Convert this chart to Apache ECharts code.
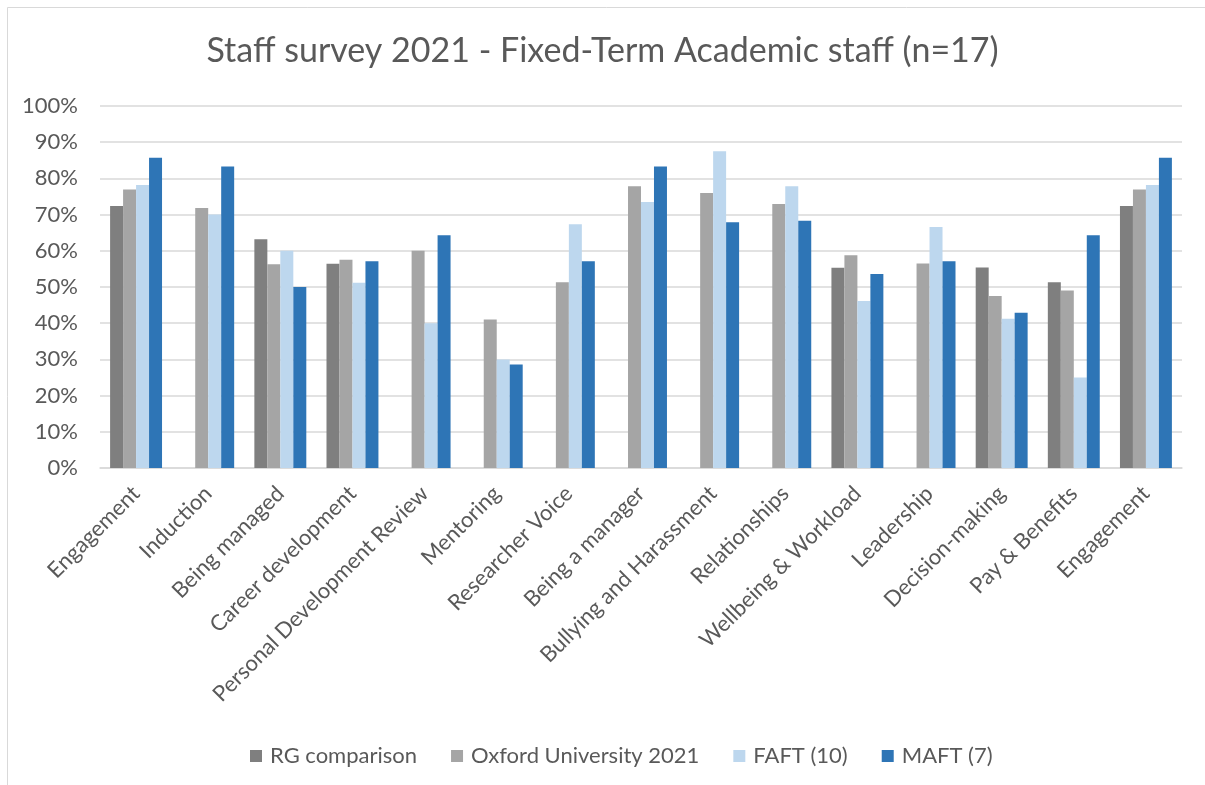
<!DOCTYPE html>
<html><head><meta charset="utf-8">
<script src="https://cdn.jsdelivr.net/npm/echarts@6/dist/echarts.min.js"></script>
<style>html,body{margin:0;padding:0;background:#fff}#c{width:1205px;height:785px}</style>
</head><body><div id="c"></div>
<script>
const categories = ["Engagement","Induction","Being managed","Career development","Personal Development Review","Mentoring","Researcher Voice","Being a manager","Bullying and Harassment","Relationships","Wellbeing & Workload","Leadership","Decision-making","Pay & Benefits","Engagement"];
const rgComparison = [0.724,null,0.632,0.564,null,null,null,null,null,null,0.553,null,0.554,0.513,0.724];
const oxford2021 = [0.769,0.718,0.563,0.575,0.600,0.410,0.513,0.778,0.760,0.729,0.588,0.565,0.475,0.490,0.769];
const faft10 = [0.782,0.700,0.600,0.512,0.400,0.300,0.673,0.735,0.875,0.778,0.461,0.666,0.412,0.250,0.782];
const maft7 = [0.857,0.833,0.500,0.571,0.643,0.286,0.571,0.833,0.679,0.683,0.536,0.571,0.429,0.643,0.857];
const yTicks = [0,0.1,0.2,0.3,0.4,0.5,0.6,0.7,0.8,0.9,1.0];
const seriesNames = ["RG comparison","Oxford University 2021","FAFT (10)","MAFT (7)"];

const FONT = 'Lato, "Open Sans", sans-serif';
const colors = ['#7F7F7F','#A5A5A5','#BDD7EE','#2E75B6'];
const data = [rgComparison, oxford2021, faft10, maft7];
const chart = echarts.init(document.getElementById('c'), null, {renderer:'canvas'});
chart.setOption({
  animation:false,
  backgroundColor:'#fff',
  textStyle:{fontFamily:FONT},
  graphic:[{type:'rect',shape:{x:7.5,y:7.5,width:1220,height:800},style:{fill:null,stroke:'#D9D9D9',lineWidth:1},silent:true,z:-1}],
  title:{text:'Staff survey 2021 - Fixed-Term Academic staff (n=17)',left:'center',top:29,
    textStyle:{fontFamily:FONT,fontSize:34,fontWeight:'normal',color:'#595959'}},
  legend:{bottom:13,left:245,itemWidth:12,itemHeight:12,itemGap:34,icon:'rect',padding:5,
    textStyle:{fontFamily:FONT,fontSize:22,color:'#595959',padding:[0,0,0,3]},data:seriesNames},
  grid:{left:100,right:23,top:106,bottom:317,containLabel:false},
  xAxis:{type:'category',data:categories,
    axisLine:{lineStyle:{color:'#D9D9D9',width:1.5}},axisTick:{show:false},
    axisLabel:{interval:0,rotate:45,margin:22,fontFamily:FONT,fontSize:22,color:'#595959'}},
  yAxis:{type:'value',min:yTicks[0],max:yTicks[yTicks.length-1],interval:0.1,
    axisLine:{show:false},axisTick:{show:false},
    splitLine:{lineStyle:{color:'#D9D9D9',width:1.5}},
    axisLabel:{margin:22,fontFamily:FONT,fontSize:22,color:'#595959',formatter:v=>Math.round(v*100)+'%'}},
  series:seriesNames.map((n,i)=>({name:n,type:'bar',data:data[i],barGap:'0%',barCategoryGap:'28%',
    itemStyle:{color:colors[i]}}))
});
</script></body></html>
